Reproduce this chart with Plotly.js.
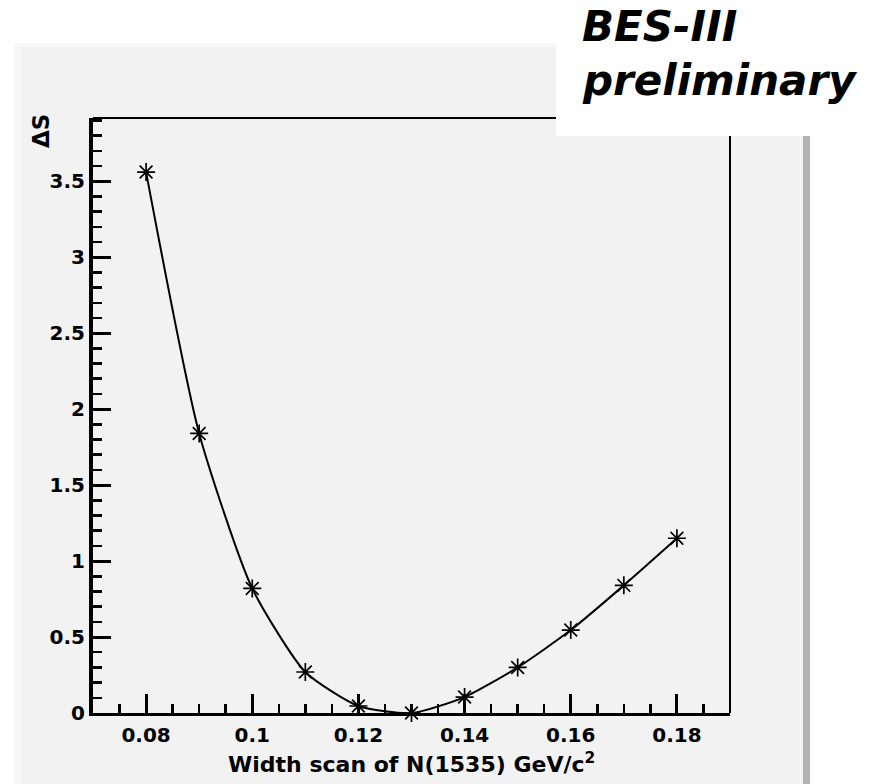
<!DOCTYPE html>
<html>
<head>
<meta charset="utf-8">
<script src="https://cdn.plot.ly/plotly-3.0.1.min.js"></script>
<style>
html, body { margin: 0; padding: 0; background: #ffffff; }
#chart { width: 886px; height: 784px; }
</style>
</head>
<body>
<div id="chart"></div>
<script>
// ---- data ----
var widthScan = [0.08, 0.09, 0.10, 0.11, 0.12, 0.13, 0.14, 0.15, 0.16, 0.17, 0.18];
var deltaS    = [3.56, 1.84, 0.82, 0.27, 0.046, 0.0, 0.105, 0.30, 0.546, 0.84, 1.15];

var xTickVals = [0.08, 0.10, 0.12, 0.14, 0.16, 0.18];
var xTickText = ["0.08", "0.1", "0.12", "0.14", "0.16", "0.18"];
var yTickVals = [0, 0.5, 1, 1.5, 2, 2.5, 3, 3.5];
var yTickText = ["0", "0.5", "1", "1.5", "2", "2.5", "3", "3.5"];

var xTitle = "Width scan of N(1535) GeV/c<sup>2</sup>";
var yTitle = "\u0394S";
var stampLine1 = "BES-III";
var stampLine2 = "preliminary";

// ---- geometry helpers (pixel -> paper) ----
var W = 886, H = 784;
var L = 93, R = 730, T = 118, B = 713;
function px(x) { return (x - L) / (R - L); }
function py(y) { return (B - y) / (B - T); }

var tickFont = { family: "DejaVu Sans", size: 20, color: "#000", weight: "bold" };
var xRange = [0.07, 0.19];
var yRange = [0, 3.916];

var trace = {
  x: widthScan,
  y: deltaS,
  type: "scatter",
  mode: "lines+markers",
  line: { color: "#000", width: 2, shape: "spline", smoothing: 0.6 },
  marker: { symbol: "asterisk-open", size: 15, color: "#000", line: { color: "#000", width: 1.7 } },
  cliponaxis: false,
  hoverinfo: "skip",
  showlegend: false
};

// invisible helper trace so the minor-tick overlay axes get drawn
var helper2 = {
  x: xRange, y: yRange, xaxis: "x2", yaxis: "y2",
  type: "scatter", mode: "markers", marker: { opacity: 0, size: 1 },
  hoverinfo: "skip", showlegend: false
};

function tickAxis(over, anchor, t0, dt, len) {
  return {
    overlaying: over, anchor: anchor, range: over === "x" ? xRange : yRange,
    tickmode: "linear", tick0: t0, dtick: dt,
    ticks: "inside", ticklen: len, tickwidth: 2.5, tickcolor: "#000",
    showticklabels: false, showline: false, showgrid: false, zeroline: false
  };
}

var layout = {
  width: W, height: H,
  margin: { l: L, r: W - R, t: T, b: H - B, pad: 0 },
  paper_bgcolor: "#ffffff",
  plot_bgcolor: "#f2f2f2",
  showlegend: false,
  xaxis: {
    range: xRange,
    tickmode: "array", tickvals: xTickVals, ticktext: xTickText,
    ticks: "inside", ticklen: 19, tickwidth: 3, tickcolor: "#000",
    showline: true, linecolor: "#000", linewidth: 3,
    showgrid: false, zeroline: false,
    tickfont: tickFont, ticklabelstandoff: 2
  },
  yaxis: {
    range: yRange,
    tickmode: "array", tickvals: yTickVals, ticktext: yTickText,
    ticks: "inside", ticklen: 18, tickwidth: 3, tickcolor: "#000",
    showline: true, linecolor: "#000", linewidth: 4,
    showgrid: false, zeroline: false,
    tickfont: tickFont
  },
  xaxis2: tickAxis("x", "y", 0.07, 0.005, 9),
  yaxis2: tickAxis("y", "x", 0, 0.1, 9),
  shapes: [
    { type: "rect", xref: "paper", yref: "paper", layer: "below",
      x0: px(14), x1: px(803), y0: py(784), y1: py(43),
      fillcolor: "#f8f8f8", line: { width: 0 } },
    { type: "rect", xref: "paper", yref: "paper", layer: "below",
      x0: px(21), x1: px(803), y0: py(784), y1: py(47),
      fillcolor: "#f2f2f2", line: { width: 0 } },
    { type: "rect", xref: "paper", yref: "paper", layer: "below",
      x0: px(803), x1: px(810), y0: py(784), y1: py(47),
      fillcolor: "#b3b3b3", line: { width: 0 } },
    { type: "line", xref: "paper", yref: "paper", layer: "above",
      x0: 0, x1: 1, y0: 1, y1: 1, line: { color: "#000", width: 2 } },
    { type: "line", xref: "paper", yref: "paper", layer: "above",
      x0: 1, x1: 1, y0: 0, y1: 1, line: { color: "#000", width: 2 } },
    { type: "rect", xref: "paper", yref: "paper", layer: "above",
      x0: px(556), x1: px(890), y0: py(136), y1: py(-5),
      fillcolor: "#ffffff", line: { width: 0 } }
  ],
  annotations: [
    { xref: "paper", yref: "paper", x: 0.5, y: py(763), text: xTitle, showarrow: false,
      xanchor: "center", yanchor: "middle",
      font: { family: "DejaVu Sans", size: 22, color: "#000", weight: "bold" } },
    { xref: "paper", yref: "paper", x: px(41), y: py(131), text: yTitle, showarrow: false,
      textangle: -90, xanchor: "center", yanchor: "middle",
      font: { family: "DejaVu Sans", size: 23, color: "#000", weight: "bold" } },
    { xref: "paper", yref: "paper", x: px(580), y: py(26), text: stampLine1, showarrow: false,
      xanchor: "left", yanchor: "middle",
      font: { family: "DejaVu Sans", size: 42, color: "#000", weight: "bold", style: "italic" } },
    { xref: "paper", yref: "paper", x: px(580), y: py(80), text: stampLine2, showarrow: false,
      xanchor: "left", yanchor: "middle",
      font: { family: "DejaVu Sans", size: 42, color: "#000", weight: "bold", style: "italic" } }
  ]
};

Plotly.newPlot("chart", [trace, helper2], layout, { staticPlot: true, displayModeBar: false });
</script>
</body>
</html>
